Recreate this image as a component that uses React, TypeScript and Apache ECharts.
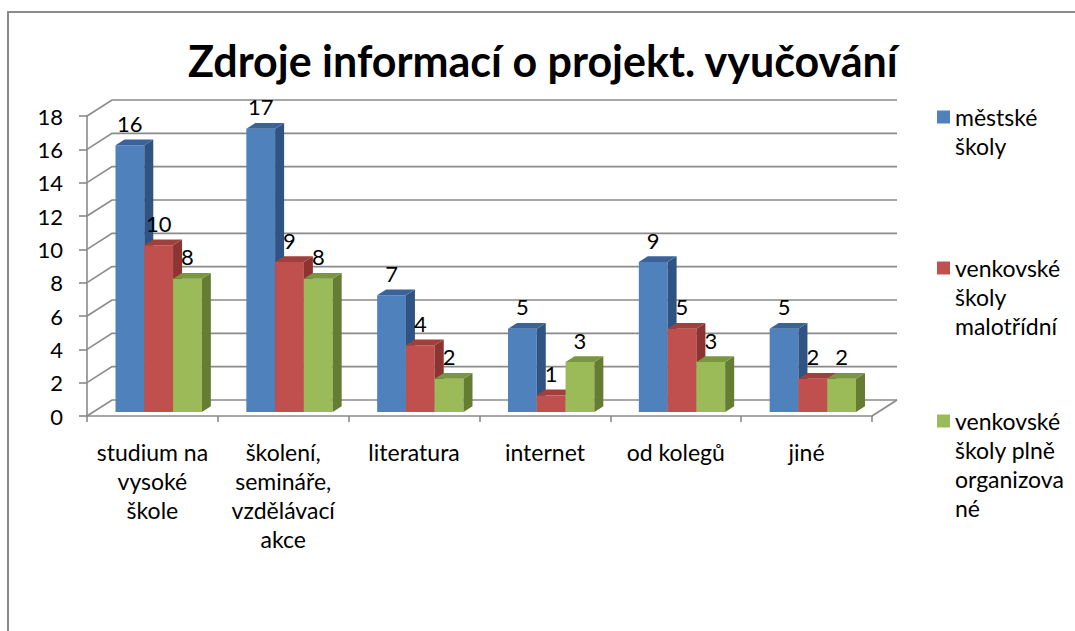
import React, { useEffect, useRef } from "react";
import * as echarts from "echarts";

const categories = [
  "studium na\nvysoké\nškole",
  "školení,\nsemináře,\nvzdělávací\nakce",
  "literatura",
  "internet",
  "od kolegů",
  "jiné",
];
const seriesNames = [
  "městské školy",
  "venkovské školy malotřídní",
  "venkovské školy plně organizované",
];
const legendLabels = [
  "městské\nškoly",
  "venkovské\nškoly\nmalotřídní",
  "venkovské\nškoly plně\norganizova\nné",
];
const mestske = [16, 17, 7, 5, 9, 5];
const malotridni = [10, 9, 4, 1, 5, 2];
const plne = [8, 8, 2, 3, 3, 2];
const yTicks = [0, 2, 4, 6, 8, 10, 12, 14, 16, 18];

const FONT = "Lato, 'Open Sans', sans-serif";
const GRAY = "#8a8a8a";
const DX = 25;
const DY = -16;
const FRONT = ["#4f81bd", "#c0504d", "#9bbb59"];
const SIDE = ["#2f5383", "#8c3432", "#647d33"];
const TOP = ["#3b6399", "#a03f3c", "#7a9640"];

export default function App() {
  const ref = useRef<HTMLDivElement>(null);
  useEffect(() => {
    if (!ref.current) return;
    const chart = echarts.init(ref.current, null, { renderer: "svg" });
    const values = [mestske, malotridni, plne];

    const barSeries = values.map((arr, s) => ({
      type: "custom",
      name: seriesNames[s],
      itemStyle: { color: FRONT[s] },
      z: 3,
      data: arr.map((v, i) => [i, v]),
      renderItem: (params: any, api: any) => {
        const idx = api.value(0);
        const val = api.value(1);
        const base = api.coord([idx, 0]);
        const topP = api.coord([idx, val]);
        const band = api.size([1, 0])[0];
        const w = band * 0.22;
        const ox = DX * 0.25;
        const oy = DY * 0.25;
        const l = base[0] - 1.5 * w + s * w + ox;
        const r = l + w;
        const b = base[1] + oy;
        const t = topP[1] + oy;
        const dx = DX * 0.36;
        const dy = DY * 0.36;
        return {
          type: "group",
          children: [
            { type: "rect", shape: { x: l, y: t, width: w, height: b - t }, style: { fill: FRONT[s] } },
            { type: "polygon", shape: { points: [[r, t], [r + dx, t + dy], [r + dx, b + dy], [r, b]] }, style: { fill: SIDE[s] } },
            { type: "polygon", shape: { points: [[l, t], [r, t], [r + dx, t + dy], [l + dx, t + dy]] }, style: { fill: TOP[s] } },
            {
              type: "text",
              style: {
                text: String(val),
                x: (l + r) / 2,
                y: t - 22,
                align: "center",
                verticalAlign: "middle",
                fill: "#000",
                font: `22px ${FONT}`,
              },
            },
          ],
        };
      },
    }));

    const wallSeries = {
      type: "custom",
      name: "wall",
      z: 1,
      silent: true,
      data: yTicks.map((v) => [0, v]),
      renderItem: (params: any, api: any) => {
        const v = api.value(1);
        const cs = params.coordSys;
        const y = api.coord([0, v])[1];
        const x0 = cs.x;
        const x1 = cs.x + cs.width;
        const children: any[] = [
          {
            type: "polyline",
            shape: { points: [[x0, y], [x0 + DX, y + DY], [x1 + DX, y + DY]] },
            style: { stroke: GRAY, lineWidth: 1.6, fill: null },
          },
        ];
        if (v === 0) {
          children.push({
            type: "line",
            shape: { x1: x1, y1: y, x2: x1 + DX, y2: y + DY },
            style: { stroke: GRAY, lineWidth: 1.6 },
          });
        }
        return { type: "group", children };
      },
    };

    const lh = 29;
    const legendTops = [73.5, 195.5, 319.5];
    const legends = seriesNames.map((n, i) => {
      const lines = legendLabels[i].split("\n");
      const label = Array(lines.length - 1).fill(" ").join("\n") + "\n" + legendLabels[i];
      return {
        left: 937,
        top: legendTops[i],
        orient: "vertical",
        padding: 0,
        itemWidth: 13,
        itemHeight: 13,
        icon: "rect",
        selectedMode: false,
        data: [n],
        formatter: () => label,
        textStyle: {
          fontFamily: FONT,
          fontSize: 23,
          color: "#000",
          lineHeight: lh,
        },
      };
    });

    chart.setOption({
      animation: false,
      backgroundColor: "#fff",
      title: {
        text: "Zdroje informací o projekt. vyučování",
        left: 183,
        top: 34,
        textStyle: { fontFamily: FONT, fontWeight: "bold", fontSize: 43, color: "#000" },
      },
      graphic: [
        {
          type: "rect",
          shape: { x: 8, y: 12, width: 2000, height: 2000 },
          style: { stroke: GRAY, lineWidth: 2, fill: null },
          silent: true,
        },
      ],
      legend: legends,
      grid: { left: 87, top: 116, width: 785, height: 300, containLabel: false },
      xAxis: {
        type: "category",
        data: categories,
        axisLine: { lineStyle: { color: GRAY, width: 1.6 } },
        axisTick: { show: true, interval: 0, length: 6, lineStyle: { color: GRAY, width: 1.6 } },
        axisLabel: {
          interval: 0,
          margin: 21,
          fontFamily: FONT,
          fontSize: 23,
          lineHeight: 29,
          color: "#000",
        },
        splitLine: { show: false },
      },
      yAxis: {
        type: "value",
        min: 0,
        max: 18,
        interval: 2,
        axisLine: { show: true, lineStyle: { color: GRAY, width: 1.6 } },
        axisTick: { show: true, length: 8, lineStyle: { color: GRAY, width: 1.6 } },
        axisLabel: { margin: 24, fontFamily: FONT, fontSize: 22, color: "#000" },
        splitLine: { show: false },
      },
      series: [wallSeries, ...barSeries],
    });
    return () => chart.dispose();
  }, []);
  return (
    <div
      ref={ref}
      style={{ position: "absolute", left: 0, top: 0, width: 1075, height: 631 }}
    />
  );
}
